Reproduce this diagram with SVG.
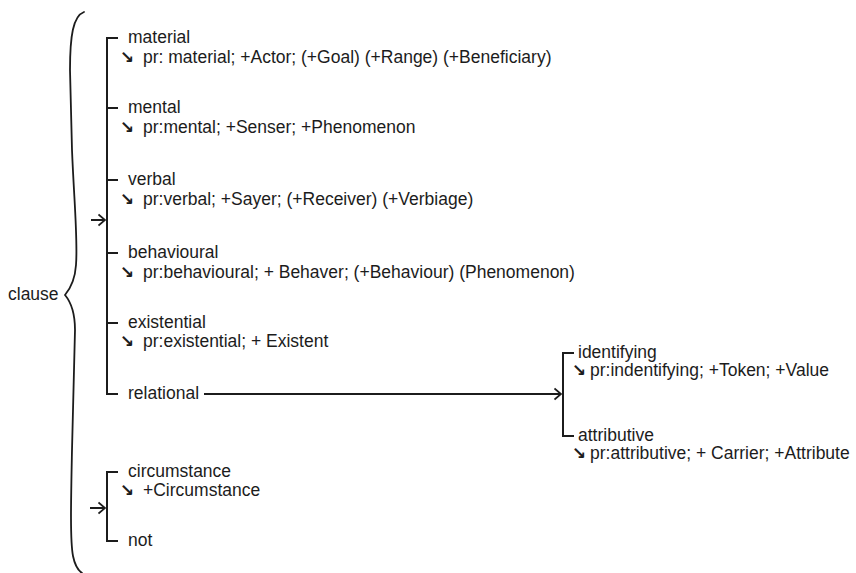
<svg xmlns="http://www.w3.org/2000/svg" width="856" height="573" viewBox="0 0 856 573">
<defs>
<style>
text{font-family:"Liberation Sans",Arial,sans-serif;font-size:17.5px;fill:#1c1c1c}
.ar{font-family:"DejaVu Sans",sans-serif;font-size:17px;font-weight:bold}
.ln{stroke:#1c1c1c;stroke-width:2;fill:none}
.br{stroke:#1c1c1c;stroke-width:1.8;fill:none;stroke-linecap:round}
</style>
<marker id="head" markerWidth="10" markerHeight="14" refX="7.5" refY="7" orient="auto" markerUnits="userSpaceOnUse">
<path d="M1,1.5 L7.5,7 L1,12.5" fill="none" stroke="#1c1c1c" stroke-width="1.7"/>
</marker>
</defs>
<rect width="856" height="573" fill="#ffffff"/>
<g id="connectors">
<path id="brace" class="br" d="M84,12 C73,16 70,36 70,70 L72,150 C74,200 78,240 76,265 C75,280 70,289 65,295 C70,301 75,312 75,330 L72,450 C71,500 70,540 73,556 C75,566 79,571 82,573"/>
<path class="ln" d="M118,38 H107 V394 H118"/>
<path class="ln" d="M107,108 H118 M107,180 H118 M107,253 H118 M107,323 H118"/>
<line class="ln" x1="91" y1="220" x2="105" y2="220" stroke-width="1.6" marker-end="url(#head)"/>
<path class="ln" d="M118,472 H107 V541 H118"/>
<line class="ln" x1="90" y1="508" x2="105" y2="508" stroke-width="1.6" marker-end="url(#head)"/>
<line class="ln" x1="204" y1="394" x2="561" y2="394" stroke-width="1.6" marker-end="url(#head)"/>
<path class="ln" d="M574,353 H563 V436 H574"/>
</g>
<g id="clause"><text x="8" y="300">clause</text></g>
<g id="material"><text x="128" y="43">material</text><text x="120" y="63"><tspan class="ar">↘</tspan><tspan x="143">pr: material; +Actor; (+Goal) (+Range) (+Beneficiary)</tspan></text></g>
<g id="mental"><text x="128" y="113">mental</text><text x="120" y="133"><tspan class="ar">↘</tspan><tspan x="143">pr:mental; +Senser; +Phenomenon</tspan></text></g>
<g id="verbal"><text x="128" y="185">verbal</text><text x="120" y="205"><tspan class="ar">↘</tspan><tspan x="143">pr:verbal; +Sayer; (+Receiver) (+Verbiage)</tspan></text></g>
<g id="behavioural"><text x="128" y="258">behavioural</text><text x="120" y="278"><tspan class="ar">↘</tspan><tspan x="143">pr:behavioural; + Behaver; (+Behaviour) (Phenomenon)</tspan></text></g>
<g id="existential"><text x="128" y="328">existential</text><text x="120" y="347"><tspan class="ar">↘</tspan><tspan x="143">pr:existential; + Existent</tspan></text></g>
<g id="relational"><text x="128" y="399">relational</text></g>
<g id="identifying"><text x="578" y="358">identifying</text><text x="572" y="376"><tspan class="ar">↘</tspan><tspan x="590">pr:indentifying; +Token; +Value</tspan></text></g>
<g id="attributive"><text x="578" y="441">attributive</text><text x="572" y="459"><tspan class="ar">↘</tspan><tspan x="590">pr:attributive; + Carrier; +Attribute</tspan></text></g>
<g id="circumstance"><text x="128" y="477">circumstance</text><text x="120" y="496"><tspan class="ar">↘</tspan><tspan x="143">+Circumstance</tspan></text></g>
<g id="not"><text x="128" y="546">not</text></g>
</svg>
